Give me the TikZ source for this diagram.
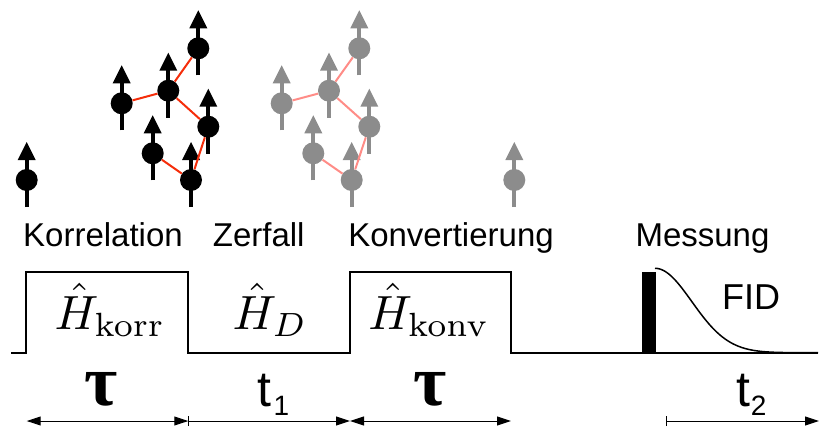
\documentclass[tikz,border=0pt]{standalone}
\usepackage{graphicx}
\usepackage[no-math]{fontspec}
\setmainfont{Liberation Sans}
\newfontfamily\taufont{Liberation Serif}
\usetikzlibrary{arrows.meta,calc}

\definecolor{spingray}{RGB}{140,140,140}
\definecolor{linkred}{RGB}{245,45,10}
\definecolor{linkpink}{RGB}{255,140,135}

\newcommand{\hamil}[1]{\scalebox{4.8}{$\hat{H}_{#1}$}}

\begin{document}
\begin{tikzpicture}[x=1pt,y=-1pt,
  spinball/.style={circle,inner sep=0pt,minimum size=22pt},
  phase/.style={anchor=base,inner sep=0pt,font=\fontsize{33}{36}\selectfont},
  ham/.style={anchor=base,inner sep=0pt},
  tlabel/.style={anchor=base west,inner sep=0pt,font=\fontsize{50}{54}\selectfont},
  taulabel/.style={anchor=base,inner sep=0pt,font=\taufont\bfseries\fontsize{72}{76}\selectfont},
  linkk/.style={line width=2pt,linkred},
  linkg/.style={line width=2pt,linkpink},
  pulse/.style={line width=2pt,line join=miter},
  span/.style={line width=1pt,{Triangle[length=14pt,width=9pt]}-{Triangle[length=14pt,width=9pt]}},
  spanbar/.style={line width=1pt,{Bar[width=10pt]}-{Triangle[length=14pt,width=9pt]}}
]
\useasboundingbox (0,0) rectangle (820,428);

% spins: shaft, head and ball
\foreach \n/\x/\y/\c in {k0/26.7/180/black, k1/121.7/103.3/black, k2/168.3/90.7/black,
    k3/198.3/48.3/black, k4/208.3/126.7/black, k5/152.7/153.3/black, k6/191/180/black,
    g0/514.3/180/spingray, g1/281.7/103.3/spingray, g2/329/90.7/spingray,
    g3/359.3/48.3/spingray, g4/369.3/126.7/spingray, g5/313.3/153.3/spingray,
    g6/351.7/180/spingray}{
  \draw[\c,line width=4pt] (\x,{\y+27}) -- (\x,{\y-21});
  \fill[\c] ({\x-9},{\y-20}) -- ({\x+9},{\y-20}) -- (\x,{\y-38}) -- cycle;
  \node[spinball,fill=\c] (\n) at (\x,\y) {};
}

% couplings
\draw[linkk] (k1) -- (k2);
\draw[linkk] (k2) -- (k3);
\draw[linkk] (k2) -- (k4);
\draw[linkk] (k4) -- (k6);
\draw[linkk] (k6) -- (k5);
\draw[linkg] (g1) -- (g2);
\draw[linkg] (g2) -- (g3);
\draw[linkg] (g2) -- (g4);
\draw[linkg] (g4) -- (g6);
\draw[linkg] (g6) -- (g5);

% phase names
\node[phase] (lkorr) at (103,246) {Korrelation};
\node[phase] (lzerf) at (258.7,246) {Zerfall};
\node[phase] (lkonv) at (451,246) {Konvertierung};
\node[phase] (lmess) at (702.5,246) {Messung};

% pulse sequence
\draw[pulse] (11,352.7) -- (25.7,352.7) -- (25.7,272.3) -- (188.3,272.3)
  -- (188.3,352.7) -- (350,352.7) -- (350,272.3) -- (511,272.3)
  -- (511,352.7) -- (818,352.7);
\fill (641.7,272.3) rectangle (656,353.7);
\draw[line width=1.5pt] plot[domain=655:818,samples=80] (\x,{352.7-84.4*exp(-((\x-655)/52)^2)});

\node[ham] (hkorr) at (110,329) {\hamil{\mathrm{korr}}};
\node[ham] (hd) at (270,329) {\hamil{D}};
\node[ham] (hkonv) at (429,329) {\hamil{\mathrm{konv}}};
\node[anchor=center,inner sep=0pt,font=\fontsize{36}{40}\selectfont] (fid) at (751,297) {FID};

% time spans
\coordinate (m0) at (26.7,421);
\coordinate (m1) at (188.3,421);
\coordinate (m2) at (350,421);
\coordinate (m3) at (511,421);
\coordinate (m4) at (666,421);
\coordinate (m5) at (819,421);
\draw[span] (m0) -- (m1);
\draw[spanbar] (m1) -- (m2);
\draw[span] (m2) -- (m3);
\draw[spanbar] (m4) -- (m5);

\node[taulabel] (tau1) at (101,405) {τ};
\node[taulabel] (tau2) at (430,405) {τ};
\node[tlabel] (t1) at (257.5,406.7) {t\kern2pt\raisebox{-8.5pt}{\fontsize{28}{30}\selectfont 1}};
\node[tlabel] (t2) at (735.9,406.7) {t\kern1pt\raisebox{-8.5pt}{\fontsize{28}{30}\selectfont 2}};
\end{tikzpicture}
\end{document}
